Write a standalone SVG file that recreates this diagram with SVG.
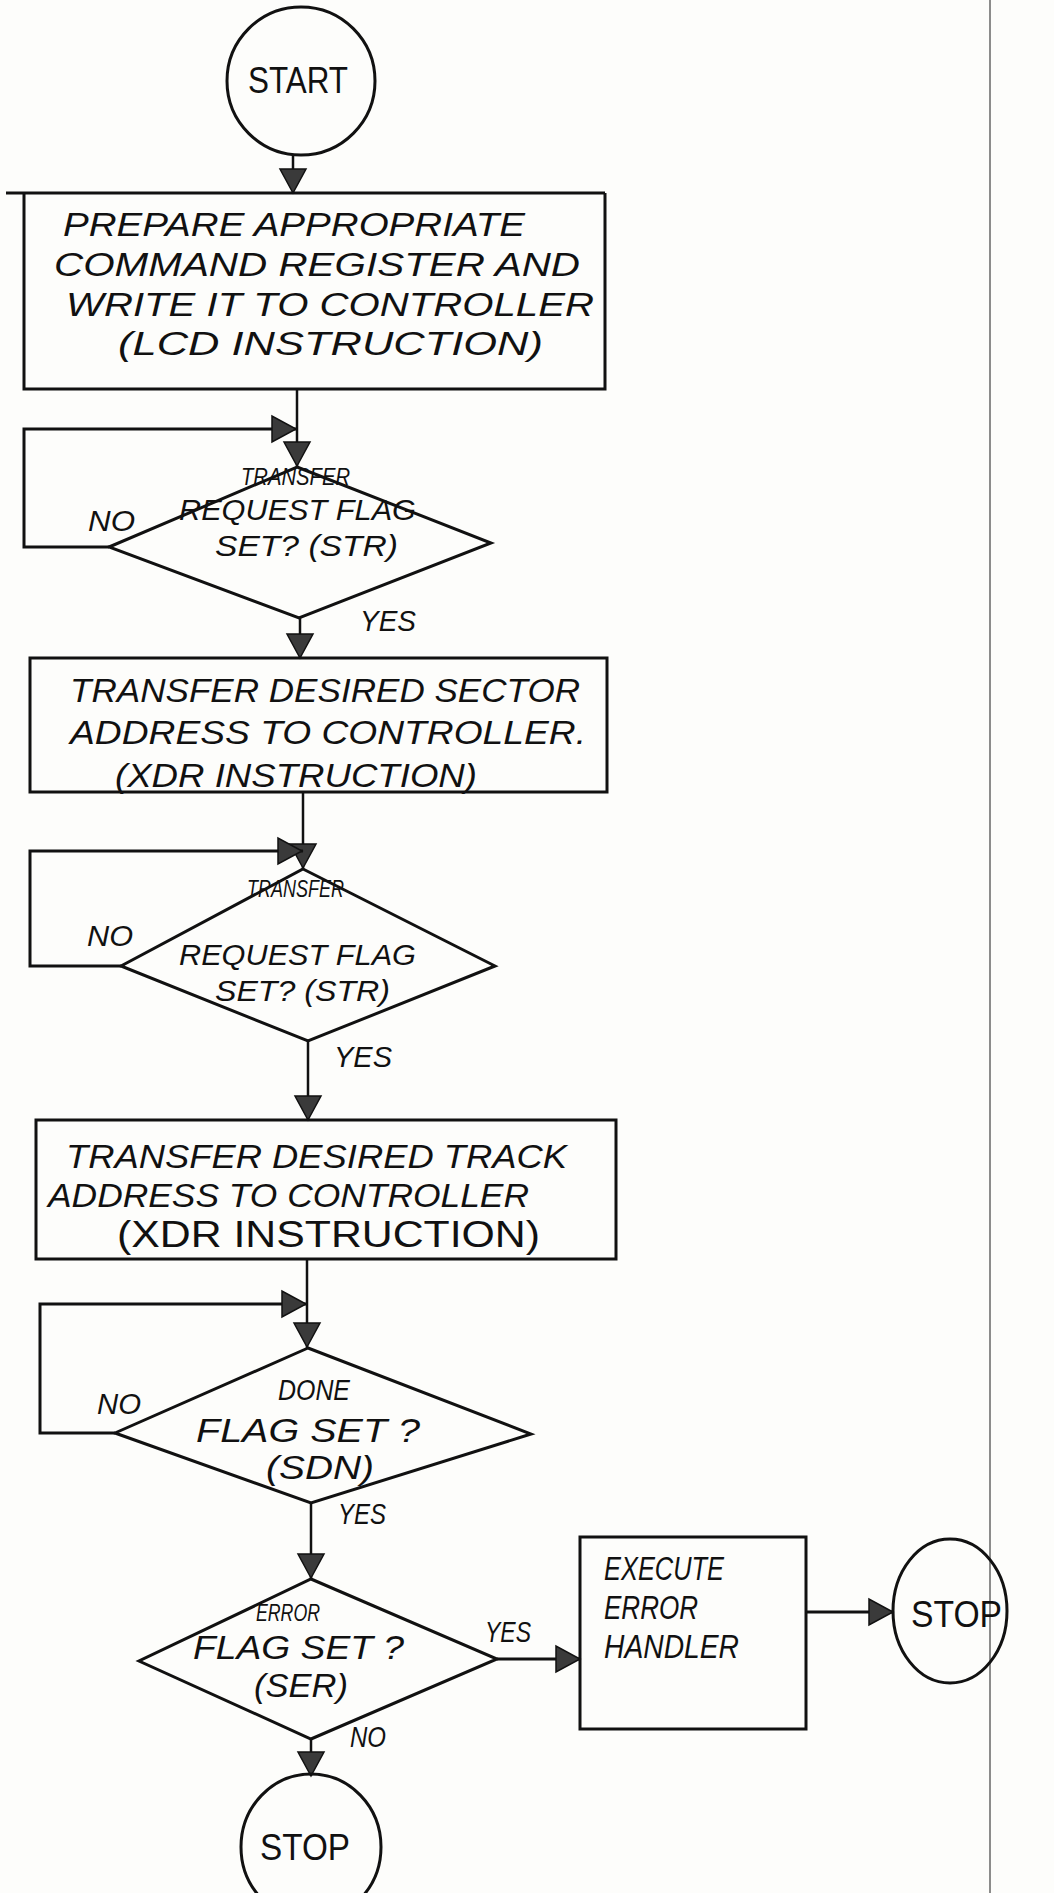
<svg xmlns="http://www.w3.org/2000/svg" xmlns:xlink="http://www.w3.org/1999/xlink" width="1054" height="1893" viewBox="0 0 1054 1893">
<style>
.sh{fill:none;stroke:#111;stroke-width:3}
.ln{fill:none;stroke:#111;stroke-width:2.5}
.t{font-family:"Liberation Sans",Arial,sans-serif;font-style:italic;fill:#111;font-size:34px}
.s{font-size:24px}
.m{font-size:29px}
.u{font-family:"Liberation Sans",Arial,sans-serif;fill:#111;font-size:36px}
</style>
<defs>
<path id="ah" d="M-13,-24 L13,-24 L0,0 Z" fill="#3a3a3a" stroke="#111" stroke-width="1.5"/>
</defs>
<rect width="1054" height="1893" fill="#fdfdfb"/>
<line x1="990" y1="0" x2="990" y2="1893" stroke="#666" stroke-width="1.5"/>
<g id="connectors">
<line class="ln" x1="293" y1="155" x2="293" y2="193"/>
<use xlink:href="#ah" transform="translate(293,193)"/>
<line class="ln" x1="297" y1="389" x2="297" y2="467"/>
<use xlink:href="#ah" transform="translate(297,466)"/>
<polyline class="sh" points="109,547 24,547 24,429 297,429"/>
<use xlink:href="#ah" transform="translate(296,429) rotate(-90)"/>
<line class="ln" x1="300" y1="618" x2="300" y2="658"/>
<use xlink:href="#ah" transform="translate(300,658)"/>
<line class="ln" x1="303" y1="792" x2="303" y2="869"/>
<use xlink:href="#ah" transform="translate(303,868)"/>
<polyline class="sh" points="121,966 30,966 30,851 303,851"/>
<use xlink:href="#ah" transform="translate(302,851) rotate(-90)"/>
<line class="ln" x1="308" y1="1041" x2="308" y2="1120"/>
<use xlink:href="#ah" transform="translate(308,1120)"/>
<line class="ln" x1="307" y1="1259" x2="307" y2="1348"/>
<use xlink:href="#ah" transform="translate(307,1347)"/>
<polyline class="sh" points="115,1433 40,1433 40,1304 307,1304"/>
<use xlink:href="#ah" transform="translate(306,1304) rotate(-90)"/>
<line class="ln" x1="311" y1="1503" x2="311" y2="1579"/>
<use xlink:href="#ah" transform="translate(311,1578)"/>
<line class="sh" x1="497" y1="1659" x2="580" y2="1659"/>
<use xlink:href="#ah" transform="translate(580,1659) rotate(-90)"/>
<line class="sh" x1="806" y1="1612" x2="893" y2="1612"/>
<use xlink:href="#ah" transform="translate(893,1612) rotate(-90)"/>
<line class="ln" x1="311" y1="1739" x2="311" y2="1776"/>
<use xlink:href="#ah" transform="translate(311,1776)"/>
</g>
<g id="start">
<ellipse class="sh" cx="301" cy="81" rx="74" ry="74"/>
<text class="u" x="298" y="93" text-anchor="middle" textLength="100" lengthAdjust="spacingAndGlyphs">START</text>
</g>
<g id="box1">
<line class="sh" x1="6" y1="193" x2="605" y2="193"/>
<polyline class="sh" points="24,193 24,389 605,389 605,193"/>
<text class="t" x="63" y="236" textLength="462" lengthAdjust="spacingAndGlyphs">PREPARE APPROPRIATE</text>
<text class="t" x="54" y="276" textLength="526" lengthAdjust="spacingAndGlyphs">COMMAND REGISTER AND</text>
<text class="t" x="66" y="316" textLength="528" lengthAdjust="spacingAndGlyphs">WRITE IT TO CONTROLLER</text>
<text class="t" x="118" y="355" textLength="425" lengthAdjust="spacingAndGlyphs">(LCD INSTRUCTION)</text>
</g>
<g id="dec1">
<polygon class="sh" points="297,467 491,543 299,618 109,547"/>
<text class="t s" x="241" y="485" textLength="109" lengthAdjust="spacingAndGlyphs">TRANSFER</text>
<text class="t m" x="179" y="520" textLength="237" lengthAdjust="spacingAndGlyphs">REQUEST FLAG</text>
<text class="t m" x="215" y="556" textLength="183" lengthAdjust="spacingAndGlyphs">SET? (STR)</text>
<text class="t m" x="88" y="531" textLength="47" lengthAdjust="spacingAndGlyphs">NO</text>
<text class="t m" x="360" y="631" textLength="56" lengthAdjust="spacingAndGlyphs">YES</text>
</g>
<g id="box2">
<rect class="sh" x="30" y="658" width="577" height="134"/>
<text class="t" x="70" y="702" textLength="510" lengthAdjust="spacingAndGlyphs">TRANSFER DESIRED SECTOR</text>
<text class="t" x="70" y="744" textLength="516" lengthAdjust="spacingAndGlyphs">ADDRESS TO CONTROLLER.</text>
<text class="t" x="115" y="787" textLength="362" lengthAdjust="spacingAndGlyphs">(XDR INSTRUCTION)</text>
</g>
<g id="dec2">
<polygon class="sh" points="303,869 495,966 308,1041 121,966"/>
<text class="t s" x="247" y="897" textLength="97" lengthAdjust="spacingAndGlyphs">TRANSFER</text>
<text class="t m" x="179" y="965" textLength="237" lengthAdjust="spacingAndGlyphs">REQUEST FLAG</text>
<text class="t m" x="215" y="1001" textLength="175" lengthAdjust="spacingAndGlyphs">SET? (STR)</text>
<text class="t m" x="87" y="946" textLength="46" lengthAdjust="spacingAndGlyphs">NO</text>
<text class="t m" x="334" y="1067" textLength="58" lengthAdjust="spacingAndGlyphs">YES</text>
</g>
<g id="box3">
<rect class="sh" x="36" y="1120" width="580" height="139"/>
<text class="t" x="66" y="1168" textLength="501" lengthAdjust="spacingAndGlyphs">TRANSFER DESIRED TRACK</text>
<text class="t" x="48" y="1207" textLength="481" lengthAdjust="spacingAndGlyphs">ADDRESS TO CONTROLLER</text>
<text class="u" x="117" y="1247" textLength="423" lengthAdjust="spacingAndGlyphs" font-size="34">(XDR INSTRUCTION)</text>
</g>
<g id="dec3">
<polygon class="sh" points="308,1348 531,1434 311,1503 115,1433"/>
<text class="t m" x="278" y="1400" textLength="72" lengthAdjust="spacingAndGlyphs">DONE</text>
<text class="t" x="196" y="1442" textLength="224" lengthAdjust="spacingAndGlyphs">FLAG SET ?</text>
<text class="t" x="266" y="1479" textLength="108" lengthAdjust="spacingAndGlyphs">(SDN)</text>
<text class="t m" x="97" y="1414" textLength="44" lengthAdjust="spacingAndGlyphs">NO</text>
<text class="t m" x="338" y="1524" textLength="48" lengthAdjust="spacingAndGlyphs">YES</text>
</g>
<g id="dec4">
<polygon class="sh" points="311,1579 497,1659 311,1739 139,1661"/>
<text class="t s" x="256" y="1621" textLength="64" lengthAdjust="spacingAndGlyphs">ERROR</text>
<text class="t" x="193" y="1659" textLength="211" lengthAdjust="spacingAndGlyphs">FLAG SET ?</text>
<text class="t" x="254" y="1697" textLength="94" lengthAdjust="spacingAndGlyphs">(SER)</text>
<text class="t m" x="485" y="1642" textLength="46" lengthAdjust="spacingAndGlyphs">YES</text>
<text class="t m" x="350" y="1747" textLength="36" lengthAdjust="spacingAndGlyphs">NO</text>
</g>
<g id="box4">
<rect class="sh" x="580" y="1537" width="226" height="192"/>
<text class="t" x="604" y="1580" textLength="120" lengthAdjust="spacingAndGlyphs">EXECUTE</text>
<text class="t" x="604" y="1619" textLength="94" lengthAdjust="spacingAndGlyphs">ERROR</text>
<text class="t" x="604" y="1658" textLength="135" lengthAdjust="spacingAndGlyphs">HANDLER</text>
</g>
<g id="stop1">
<ellipse class="sh" cx="950" cy="1611" rx="57" ry="72"/>
<text class="u" x="911" y="1627" textLength="91" lengthAdjust="spacingAndGlyphs">STOP</text>
</g>
<g id="stop2">
<ellipse class="sh" cx="311" cy="1847" rx="70" ry="73"/>
<text class="u" x="260" y="1860" textLength="90" lengthAdjust="spacingAndGlyphs">STOP</text>
</g>
</svg>
